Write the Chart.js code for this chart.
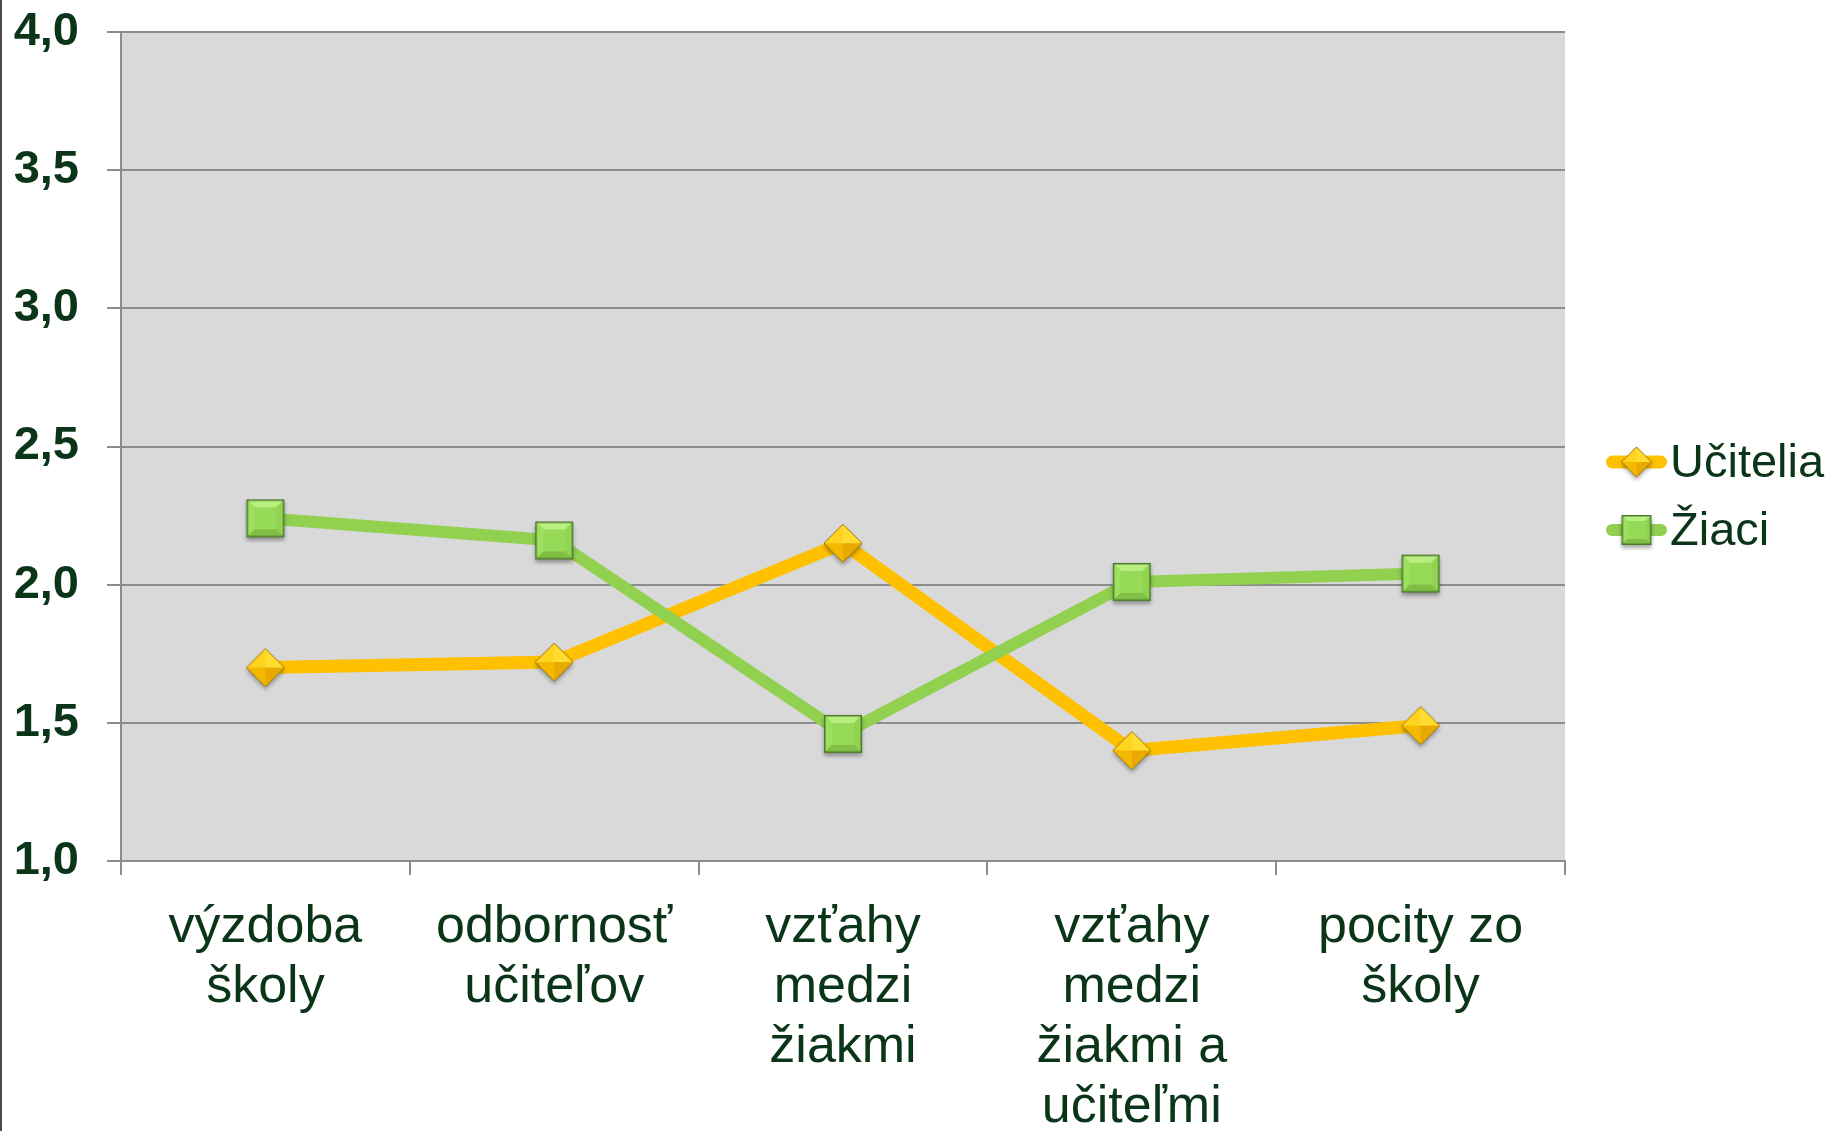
<!DOCTYPE html>
<html lang="sk">
<head>
<meta charset="utf-8">
<title>Učitelia a žiaci</title>
<script src="https://cdn.jsdelivr.net/npm/chart.js@4.4.1/dist/chart.umd.min.js"></script>
<style>
    html, body { margin: 0; padding: 0; background: #ffffff; }
    #wrap { width: 1841px; height: 1131px; }
</style>
</head>
<body>
<div id="wrap"><canvas id="chart" width="1841" height="1131"></canvas></div>
<script>
const categories = [
    ['výzdoba', 'školy'],
    ['odbornosť', 'učiteľov'],
    ['vzťahy', 'medzi', 'žiakmi'],
    ['vzťahy', 'medzi', 'žiakmi a', 'učiteľmi'],
    ['pocity zo', 'školy']
];
const seriesNames = ['Učitelia', 'Žiaci'];
const ucitelia = [1.70, 1.72, 2.15, 1.40, 1.49];
const ziaci = [2.24, 2.16, 1.46, 2.01, 2.04];
const yMin = 1.0;
const yMax = 4.0;
const yStep = 0.5;

const TEXT_COLOR = '#0a3519';
const GRID_COLOR = '#8a8d8c';

// beveled diamond marker, shadow included
function makeDiamond(h) {
    const pad = 6;
    const size = h * 2 + pad * 2;
    const c = document.createElement('canvas');
    c.width = size;
    c.height = size;
    const ctx = c.getContext('2d');
    const m = size / 2;
    const T = [m, m - h], R = [m + h, m], B = [m, m + h], L = [m - h, m], C = [m, m];

    const poly = (pts, fill) => {
        ctx.beginPath();
        ctx.moveTo(pts[0][0], pts[0][1]);
        pts.slice(1).forEach(p => ctx.lineTo(p[0], p[1]));
        ctx.closePath();
        ctx.fillStyle = fill;
        ctx.fill();
    };

    ctx.save();
    ctx.shadowColor = 'rgba(0,0,0,0.35)';
    ctx.shadowBlur = 4;
    ctx.shadowOffsetY = 3;
    poly([T, R, B, L], '#e8a800');
    ctx.restore();

    poly([L, T, C], '#ffd420');
    poly([T, R, C], '#ffdc30');
    poly([R, B, C], '#e9a900');
    poly([B, L, C], '#f4b800');

    ctx.beginPath();
    ctx.moveTo(T[0], T[1]);
    ctx.lineTo(R[0], R[1]);
    ctx.lineTo(B[0], B[1]);
    ctx.lineTo(L[0], L[1]);
    ctx.closePath();
    ctx.strokeStyle = '#a27a00';
    ctx.lineWidth = 1;
    ctx.stroke();
    return c;
}

// beveled square marker, shadow included
function makeSquare(h) {
    const pad = 6;
    const size = h * 2 + pad * 2;
    const c = document.createElement('canvas');
    c.width = size;
    c.height = size;
    const ctx = c.getContext('2d');
    const a = pad, b = size - pad;
    const inset = Math.round(h * 0.4);
    const ia = a + inset, ib = b - inset;

    const poly = (pts, fill) => {
        ctx.beginPath();
        ctx.moveTo(pts[0][0], pts[0][1]);
        pts.slice(1).forEach(p => ctx.lineTo(p[0], p[1]));
        ctx.closePath();
        ctx.fillStyle = fill;
        ctx.fill();
    };

    ctx.save();
    ctx.shadowColor = 'rgba(0,0,0,0.35)';
    ctx.shadowBlur = 4;
    ctx.shadowOffsetY = 3;
    poly([[a, a], [b, a], [b, b], [a, b]], '#8ccf4c');
    ctx.restore();

    poly([[a, a], [b, a], [ib, ia], [ia, ia]], '#b8ef80');
    poly([[a, a], [ia, ia], [ia, ib], [a, b]], '#9ddf5e');
    poly([[b, a], [b, b], [ib, ib], [ib, ia]], '#90d452');
    poly([[a, b], [ia, ib], [ib, ib], [b, b]], '#7fbf46');
    poly([[ia, ia], [ib, ia], [ib, ib], [ia, ib]], '#97da58');

    ctx.strokeStyle = '#4e7a2c';
    ctx.lineWidth = 1.5;
    ctx.strokeRect(a + 0.75, a + 0.75, b - a - 1.5, b - a - 1.5);
    return c;
}

const diamondPoint = makeDiamond(19);
const squarePoint = makeSquare(19);
const diamondSmall = makeDiamond(15);
const squareSmall = makeSquare(15);

const plotBackground = {
    id: 'plotBackground',
    beforeDraw(chart) {
        const { ctx, chartArea } = chart;
        ctx.save();
        ctx.fillStyle = '#d9d9d9';
        ctx.fillRect(chartArea.left, chartArea.top,
            chartArea.right - chartArea.left, chartArea.bottom - chartArea.top);
        // slide edge at the far left
        ctx.fillStyle = '#4a4a4a';
        ctx.fillRect(0, 0, 2, chart.height);
        ctx.restore();
    }
};

// legend with line + marker, like the office chart
const lineLegend = {
    id: 'lineLegend',
    afterDraw(chart) {
        const { ctx } = chart;
        const x0 = 1606, x1 = 1667, textX = 1670;
        const rows = [462, 530];
        const markers = [diamondSmall, squareSmall];
        ctx.save();
        chart.data.datasets.forEach((ds, i) => {
            const y = rows[i];
            ctx.strokeStyle = ds.borderColor;
            ctx.lineWidth = ds.borderWidth;
            ctx.lineCap = 'round';
            ctx.beginPath();
            ctx.moveTo(x0 + ds.borderWidth / 2, y);
            ctx.lineTo(x1 - ds.borderWidth / 2, y);
            ctx.stroke();
            const mk = markers[i];
            ctx.drawImage(mk, (x0 + x1) / 2 - mk.width / 2, y - mk.height / 2);
            ctx.fillStyle = TEXT_COLOR;
            ctx.font = '47px "Liberation Sans", Arial, sans-serif';
            ctx.textBaseline = 'alphabetic';
            ctx.textAlign = 'left';
            ctx.fillText(ds.label, textX, y + 15);
        });
        ctx.restore();
    }
};

new Chart(document.getElementById('chart'), {
    type: 'line',
    data: {
        labels: categories,
        datasets: [{
            label: seriesNames[0],
            data: ucitelia,
            borderColor: '#ffc000',
            backgroundColor: '#ffc000',
            borderWidth: 13,
            pointStyle: diamondPoint,
            pointRadius: 19,
            pointHoverRadius: 19,
            tension: 0,
            order: 1
        }, {
            label: seriesNames[1],
            data: ziaci,
            borderColor: '#92d050',
            backgroundColor: '#92d050',
            borderWidth: 12,
            pointStyle: squarePoint,
            pointRadius: 19,
            pointHoverRadius: 19,
            tension: 0,
            order: 0
        }]
    },
    options: {
        responsive: false,
        animation: false,
        devicePixelRatio: 1,
        layout: {
            padding: { left: 0, top: 0, right: 276, bottom: 0 }
        },
        plugins: {
            legend: { display: false },
            tooltip: { enabled: false }
        },
        scales: {
            x: {
                offset: true,
                grid: {
                    display: true,
                    offset: true,
                    drawOnChartArea: false,
                    drawTicks: true,
                    tickLength: 14,
                    color: GRID_COLOR,
                    lineWidth: 2
                },
                border: { display: true, color: GRID_COLOR, width: 2 },
                ticks: {
                    color: TEXT_COLOR,
                    padding: 23,
                    maxRotation: 0,
                    minRotation: 0,
                    autoSkip: false,
                    font: { family: '"Liberation Sans", Arial, sans-serif', size: 52, lineHeight: 1.154 }
                },
                afterFit(scale) {
                    scale.height = 270;
                }
            },
            y: {
                min: yMin,
                max: yMax,
                grid: {
                    color: GRID_COLOR,
                    lineWidth: 2,
                    drawTicks: true,
                    tickLength: 14
                },
                border: { display: true, color: GRID_COLOR, width: 2 },
                ticks: {
                    stepSize: yStep,
                    color: TEXT_COLOR,
                    padding: 28,
                    font: { family: '"Liberation Sans", Arial, sans-serif', size: 47, weight: 'bold' },
                    callback: value => value.toFixed(1).replace('.', ',')
                },
                afterFit(scale) {
                    scale.width = 121;
                    scale.paddingTop = 29;
                    scale.paddingBottom = 29;
                }
            }
        }
    },
    plugins: [plotBackground, lineLegend]
});
</script>
</body>
</html>
